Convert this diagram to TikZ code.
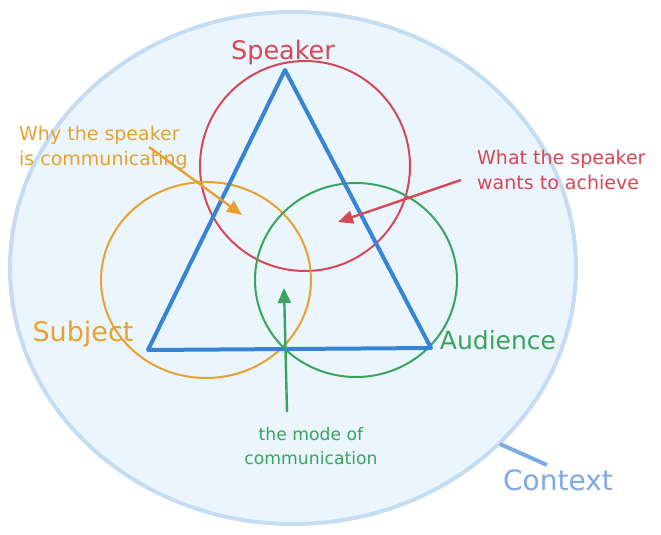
\documentclass[tikz,border=0pt]{standalone}
\usepackage{fontspec}
\setmainfont{DejaVu Sans}
\usepackage{tikz}
\usetikzlibrary{arrows.meta,positioning,shapes.geometric}
\definecolor{ctxfill}{HTML}{EAF5FE}
\definecolor{ctxline}{HTML}{C5DCF2}
\definecolor{ctxtext}{HTML}{7DAAE1}
\definecolor{spkred}{HTML}{D64856}
\definecolor{subjorange}{HTML}{E8A030}
\definecolor{audgreen}{HTML}{3AA35C}
\definecolor{triblue}{HTML}{3884D4}
\tikzstyle{setring} = [
  draw,
  line width=2pt,
  ]
\tikzstyle{bigname} = [
  font=\fontsize{25.5}{30}\selectfont,
  inner sep=0pt,
  ]
\tikzstyle{note} = [
  font=\fontsize{19}{25}\selectfont,
  inner sep=0pt,
  align=left,
  ]
\tikzstyle{pointer} = [
  line width=2.4pt,
  -{Triangle[length=15pt,width=13pt]},
  ]
\newcommand{\twolines}[2]{#1\\#2}

\begin{document}
\begin{tikzpicture}[x=1pt,y=-1pt]
  \useasboundingbox (0,0) rectangle (661,535);

  % context
  \draw[fill=ctxfill, draw=ctxline, line width=4pt] (293,268) ellipse [x radius=283, y radius=256];

  % the three sets
  \draw[setring, spkred] (305,166) circle [radius=105];
  \draw[setring, subjorange] (206,280) ellipse [x radius=105, y radius=98];
  \draw[setring, audgreen] (356,280) ellipse [x radius=101, y radius=97];

  % triangle
  \coordinate (top) at (285,70);
  \coordinate (left) at (148,350);
  \coordinate (right) at (431,348);
  \draw[triblue, line width=4pt, line join=round] (top) -- (right) -- (left) -- cycle;

  \node[bigname, text=spkred] (speaker) at (283,52) {Speaker};
  \node[bigname, text=subjorange, font=\fontsize{27}{30}\selectfont] (subject) at (83,334) {Subject};
  \node[bigname, text=audgreen, font=\fontsize{25}{30}\selectfont] (audience) at (498,340) {Audience};
  \node[bigname, text=ctxtext, font=\fontsize{28}{30}\selectfont] (context) at (558,480) {Context};

  \node[note, text=subjorange, anchor=west] (why) at (19,148)
    {\twolines{Why the speaker}{is communicating}};
  \node[note, text=spkred, anchor=west] (what) at (477,170)
    {\twolines{What the speaker}{wants to achieve}};
  \node[note, text=audgreen, align=center, font=\fontsize{17.2}{24}\selectfont] (mode) at (311,446)
    {\twolines{the mode of}{communication}};

  \coordinate (whytail) at (149,147);
  \coordinate (whyhead) at (242,215);
  \coordinate (whattail) at (461,180);
  \coordinate (whathead) at (338,222);
  \coordinate (modetail) at (287,412);
  \coordinate (modehead) at (284,288);
  \coordinate (ctxedge) at (500,444);
  \coordinate (ctxend) at (547,465);

  \draw[pointer, subjorange] (whytail) -- (whyhead);
  \draw[pointer, spkred] (whattail) -- (whathead);
  \draw[pointer, audgreen] (modetail) -- (modehead);
  \draw[ctxtext, line width=4pt] (ctxedge) -- (ctxend);

\end{tikzpicture}
\end{document}
